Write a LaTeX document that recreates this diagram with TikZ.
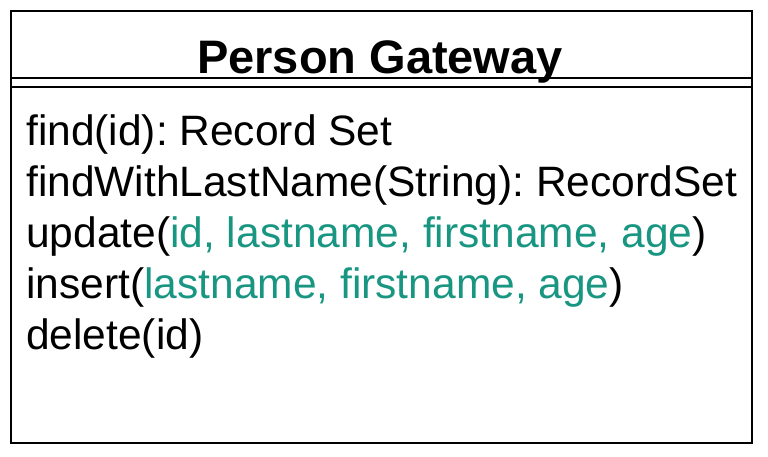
\documentclass[tikz,border=0pt]{standalone}
\usepackage{fontspec}
\setmainfont{Liberation Sans}
\frenchspacing
\definecolor{argteal}{RGB}{24,150,130}
\begin{document}
\begin{tikzpicture}[x=1pt,y=-1pt,
  method/.style={anchor=base west,inner sep=0pt,font=\fontsize{42.5}{50}\selectfont},
  heading/.style={anchor=base,inner sep=0pt,font=\bfseries\fontsize{47}{54}\selectfont}]
\useasboundingbox (0,0) rectangle (768,456);
\draw[line width=2pt] (11,10.5) rectangle (751.5,443);
\draw[line width=1.3pt] (11,78) -- (751.5,78);
\draw[line width=2pt] (11,87) -- (751.5,87);
\node[heading] (title) at (380,73.5) {Person Gateway};

\node[method] (find) at (26,145) {find(id): Record Set};
\node[method] (findlast) at (26,196) {findWithLastName(String): RecordSet};
\node[method] (update) at (26,247) {update(\textcolor{argteal}{id, lastname, firstname, age})};
\node[method] (insert) at (26,298) {insert(\textcolor{argteal}{lastname, firstname, age})};
\node[method] (delete) at (26,349) {delete(id)};
\end{tikzpicture}
\end{document}
